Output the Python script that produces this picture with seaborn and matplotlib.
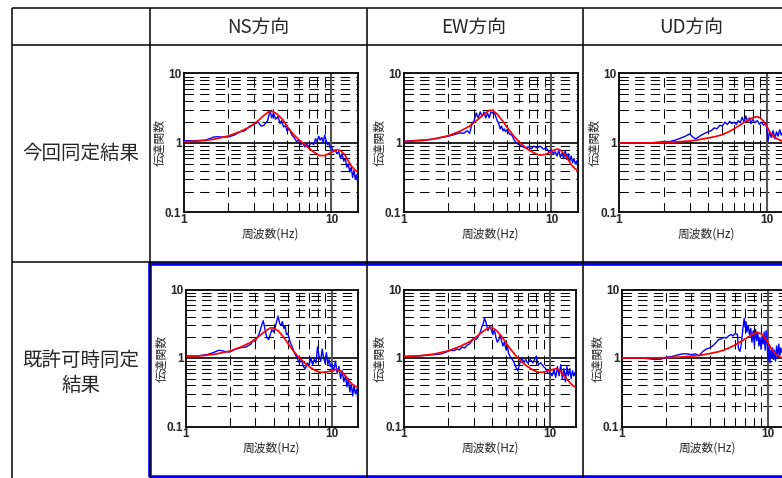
import numpy as np
import pandas as pd
import matplotlib
matplotlib.use("Agg")
import matplotlib.pyplot as plt
from matplotlib.lines import Line2D
from matplotlib.patches import Rectangle
from matplotlib.ticker import LogLocator, NullFormatter, FixedLocator, FixedFormatter
import seaborn as sns

sns.set_style("white")
plt.rcParams['font.family'] = ['Noto Sans CJK JP', 'DejaVu Sans']
plt.rcParams['lines.scale_dashes'] = True

# ---------------- data ----------------
col_titles = ["NS方向", "EW方向", "UD方向"]
row_titles = ["今回同定結果", "既許可時同定\n結果"]
xlabel = "周波数(Hz)"
ylabel = "伝達関数"
x_ticks = [1, 10]
x_tick_labels = ["1", "10"]
y_ticks = [0.1, 1, 10]
y_tick_labels = ["0.1", "1", "10"]

red_f_h = [1.0, 1.3, 1.6, 2.0, 2.4, 2.8, 3.2, 3.5, 3.8, 4.0, 4.3, 4.7, 5.1, 5.5, 6.0,
           6.5, 7.0, 7.6, 8.3, 9.0, 9.7, 10.4, 11.0, 11.6, 12.3, 13.0, 13.7, 14.4, 15.0]
red_f_v = [1.0, 1.5, 2.0, 2.5, 3.0, 3.5, 4.0, 4.5, 5.0, 5.5, 6.0, 6.5, 7.0, 7.5, 8.0,
           8.5, 9.0, 9.5, 10.0, 10.5, 11.0, 11.5, 12.0, 12.5, 13.0, 14.0, 15.0]

# row 1 (今回同定結果)
ns1_red = [1.04, 1.07, 1.13, 1.26, 1.45, 1.70, 2.10, 2.50, 2.85, 2.85, 2.60, 2.15, 1.65, 1.35, 1.12,
           0.98, 0.85, 0.74, 0.66, 0.66, 0.71, 0.77, 0.80, 0.77, 0.68, 0.55, 0.46, 0.41, 0.38]
ew1_red = [1.05, 1.08, 1.14, 1.27, 1.47, 1.75, 2.20, 2.60, 2.95, 2.95, 2.60, 2.05, 1.60, 1.30, 1.05,
           0.90, 0.80, 0.72, 0.67, 0.68, 0.73, 0.79, 0.82, 0.78, 0.68, 0.57, 0.48, 0.43, 0.40]
ud1_red = [1.0, 1.0, 1.02, 1.04, 1.07, 1.12, 1.18, 1.24, 1.32, 1.45, 1.60, 1.78, 1.98, 2.15, 2.30,
           2.40, 2.30, 2.05, 1.72, 1.42, 1.25, 1.18, 1.12, 1.08, 1.03, 0.95, 0.88]
# row 2 (既許可時同定結果)
ns2_red = [1.05, 1.08, 1.14, 1.26, 1.45, 1.70, 2.10, 2.45, 2.75, 2.75, 2.50, 2.00, 1.55, 1.25, 1.00,
           0.85, 0.75, 0.67, 0.62, 0.62, 0.64, 0.67, 0.68, 0.64, 0.56, 0.48, 0.42, 0.39, 0.37]
ew2_red = [1.05, 1.08, 1.14, 1.27, 1.47, 1.72, 2.12, 2.48, 2.78, 2.78, 2.52, 2.00, 1.55, 1.25, 1.00,
           0.85, 0.75, 0.67, 0.62, 0.62, 0.65, 0.68, 0.70, 0.66, 0.57, 0.49, 0.43, 0.39, 0.37]
ud2_red = [1.0, 1.0, 1.01, 1.03, 1.06, 1.10, 1.16, 1.22, 1.30, 1.42, 1.56, 1.72, 1.90, 2.08, 2.25,
           2.35, 2.25, 2.00, 1.70, 1.40, 1.22, 1.12, 1.05, 1.00, 0.96, 0.90, 0.85]

ns1_f = [1.0, 1.2, 1.4, 1.5, 1.6, 1.7, 1.8, 2.0, 2.2, 2.4, 2.6, 2.8, 3.0, 3.2, 3.35, 3.5, 3.7, 3.85,
         3.95, 4.05, 4.2, 4.35, 4.5, 4.6, 4.75, 4.9, 5.0, 5.2, 5.4, 5.6, 5.8, 6.0, 6.2, 6.4, 6.6, 6.8,
         7.0, 7.3, 7.6, 7.8, 8.0, 8.2, 8.4, 8.6, 8.8, 9.0, 9.2, 9.4, 9.6, 9.8, 10.0, 10.3, 10.6, 10.9,
         11.2, 11.5, 11.8, 12.1, 12.4, 12.7, 13.0, 13.3, 13.6, 13.9, 14.2, 14.5, 14.8, 15.0]
ns1_blue = [1.08, 1.08, 1.1, 1.15, 1.22, 1.23, 1.22, 1.22, 1.3, 1.45, 1.5, 1.75, 1.85, 2.0, 1.75, 1.8,
            2.1, 2.9, 2.3, 2.7, 2.2, 2.4, 1.9, 2.1, 1.7, 1.8, 1.5, 1.6, 1.3, 1.2, 1.05, 1.1, 0.95, 1.0,
            0.88, 0.95, 0.9, 1.0, 0.95, 1.15, 1.05, 1.25, 1.1, 1.2, 1.0, 1.3, 1.1, 0.95, 1.0, 0.85,
            0.9, 0.75, 0.8, 0.7, 0.75, 0.6, 0.7, 0.55, 0.6, 0.45, 0.5, 0.38, 0.45, 0.32, 0.4, 0.3,
            0.35, 0.28]

ew1_f = [1.0, 1.5, 2.0, 2.2, 2.4, 2.55, 2.7, 2.8, 2.9, 3.0, 3.1, 3.2, 3.3, 3.4, 3.5, 3.6, 3.7, 3.8,
         3.9, 4.0, 4.1, 4.2, 4.3, 4.4, 4.5, 4.6, 4.7, 4.8, 4.9, 5.0, 5.2, 5.4, 5.6, 5.8, 6.0, 6.3,
         6.6, 7.0, 7.3, 7.6, 8.0, 8.4, 8.8, 9.2, 9.6, 10.0, 10.3, 10.6, 10.9, 11.2, 11.5, 11.8, 12.1,
         12.4, 12.7, 13.0, 13.3, 13.6, 13.9, 14.2, 14.5, 14.8, 15.0]
ew1_blue = [1.06, 1.12, 1.25, 1.32, 1.4, 1.38, 1.5, 1.38, 1.9, 2.1, 2.7, 2.3, 2.8, 2.4, 2.8, 2.3, 2.7,
            2.3, 2.8, 2.7, 2.8, 2.4, 2.1, 1.9, 1.6, 1.75, 1.5, 1.6, 1.45, 1.55, 1.35, 1.3, 1.1, 1.0,
            0.95, 0.9, 0.85, 0.88, 0.82, 0.9, 0.85, 0.9, 0.82, 0.85, 0.75, 0.8, 0.7, 0.75, 0.65, 0.78,
            0.62, 0.72, 0.6, 0.78, 0.58, 0.7, 0.55, 0.65, 0.52, 0.6, 0.5, 0.55, 0.48]

ud1_f = [1.0, 1.3, 1.6, 1.8, 2.0, 2.2, 2.4, 2.6, 2.8, 3.0, 3.15, 3.3, 3.45, 3.6, 3.8, 4.0, 4.2, 4.4,
         4.6, 4.8, 5.0, 5.2, 5.4, 5.6, 5.8, 6.0, 6.2, 6.4, 6.6, 6.8, 7.0, 7.2, 7.4, 7.6, 7.8, 8.0,
         8.3, 8.6, 8.9, 9.2, 9.5, 9.8, 10.0, 10.15, 10.4, 10.7, 11.0, 11.3, 11.6, 11.9, 12.2, 12.5,
         12.8, 13.2, 14.0, 15.0]
ud1_blue = [1.0, 1.0, 1.0, 1.02, 1.05, 1.05, 1.1, 1.17, 1.25, 1.35, 1.22, 1.15, 1.22, 1.3, 1.38, 1.45,
            1.5, 1.65, 1.6, 1.8, 1.75, 2.0, 1.85, 2.05, 1.9, 2.0, 1.85, 2.1, 1.95, 2.35, 2.0, 2.45, 2.0,
            2.3, 1.9, 2.2, 1.95, 2.1, 1.85, 2.0, 1.8, 1.95, 1.6, 1.05, 1.45, 1.2, 1.5, 1.15, 1.45, 1.25,
            1.55, 1.3, 1.45, 1.35, 1.3, 1.25]

ns2_f = [1.0, 1.2, 1.4, 1.55, 1.7, 1.85, 2.0, 2.2, 2.4, 2.6, 2.8, 2.9, 3.0, 3.1, 3.2, 3.3, 3.4, 3.5,
         3.6, 3.7, 3.8, 3.9, 4.0, 4.1, 4.2, 4.3, 4.4, 4.5, 4.6, 4.7, 4.8, 4.9, 5.0, 5.2, 5.4, 5.6,
         5.8, 6.0, 6.2, 6.4, 6.6, 6.8, 7.0, 7.2, 7.4, 7.6, 7.8, 8.0, 8.2, 8.4, 8.6, 8.8, 9.0, 9.2,
         9.4, 9.6, 9.8, 10.0, 10.3, 10.6, 10.9, 11.2, 11.5, 11.8, 12.1, 12.4, 12.7, 13.0, 13.3,
         13.6, 13.9, 14.2, 14.5, 14.8, 15.0]
ns2_blue = [1.07, 1.07, 1.12, 1.2, 1.3, 1.25, 1.22, 1.35, 1.42, 1.45, 1.6, 1.8, 1.75, 2.0, 2.3, 2.9,
            3.5, 2.6, 2.0, 1.85, 2.2, 2.6, 2.4, 2.8, 3.4, 4.1, 3.2, 3.0, 3.4, 2.7, 2.9, 2.2, 2.3, 1.7,
            1.4, 1.15, 1.0, 0.85, 0.95, 0.75, 0.7, 0.85, 0.78, 1.0, 0.8, 0.95, 0.85, 1.45, 1.05, 0.9,
            1.35, 1.0, 0.85, 1.2, 0.8, 0.95, 0.75, 0.8, 0.65, 0.9, 0.6, 0.75, 0.5, 0.65, 0.45, 0.55,
            0.38, 0.5, 0.32, 0.42, 0.28, 0.4, 0.3, 0.35, 0.27]

ew2_f = [1.0, 1.3, 1.6, 1.8, 2.0, 2.1, 2.2, 2.3, 2.4, 2.5, 2.6, 2.7, 2.8, 2.9, 3.0, 3.1, 3.2, 3.3,
         3.4, 3.5, 3.55, 3.65, 3.75, 3.85, 3.95, 4.05, 4.15, 4.25, 4.35, 4.45, 4.55, 4.65, 4.75, 4.85,
         5.0, 5.1, 5.2, 5.4, 5.6, 5.8, 6.0, 6.2, 6.4, 6.6, 6.8, 7.0, 7.3, 7.6, 8.0, 8.3, 8.6, 9.0,
         9.3, 9.6, 10.0, 10.3, 10.6, 10.9, 11.2, 11.5, 11.8, 12.1, 12.4, 12.7, 13.0, 13.3, 13.6,
         13.9, 14.2, 14.5, 14.8, 15.0]
ew2_blue = [1.05, 1.08, 1.12, 1.15, 1.25, 1.3, 1.28, 1.35, 1.32, 1.45, 1.4, 1.55, 1.6, 1.75, 1.95, 1.85,
            2.0, 2.3, 2.8, 3.3, 3.8, 3.2, 2.5, 2.9, 2.6, 2.2, 2.6, 2.0, 1.7, 1.85, 2.2, 1.75, 1.5, 1.7,
            1.3, 1.45, 1.15, 1.0, 0.9, 0.75, 0.65, 0.85, 1.0, 0.85, 0.95, 0.85, 0.95, 0.85, 1.05, 0.8,
            0.85, 0.75, 0.7, 0.6, 0.6, 0.55, 0.68, 0.52, 0.75, 0.55, 0.8, 0.5, 0.7, 0.45, 0.75, 0.55,
            0.7, 0.5, 0.65, 0.55, 0.62, 0.5]

ud2_f = [1.0, 1.3, 1.5, 1.7, 1.85, 2.0, 2.2, 2.4, 2.6, 2.8, 3.0, 3.2, 3.4, 3.6, 3.8, 4.0, 4.2, 4.4,
         4.6, 4.8, 5.0, 5.2, 5.4, 5.6, 5.8, 6.0, 6.2, 6.3, 6.45, 6.6, 6.75, 6.9, 7.0, 7.1, 7.2, 7.35,
         7.5, 7.65, 7.8, 7.95, 8.1, 8.25, 8.4, 8.55, 8.7, 8.85, 9.0, 9.15, 9.3, 9.45, 9.6, 9.75,
         9.9, 10.05, 10.2, 10.35, 10.5, 10.65, 10.8, 10.95, 11.1, 11.3, 11.5, 11.7, 11.9, 12.1,
         12.3, 12.5, 13.0, 14.0, 15.0]
ud2_blue = [1.0, 1.0, 0.98, 0.95, 0.96, 1.02, 1.05, 1.1, 1.15, 1.15, 1.12, 1.15, 1.08, 1.25, 1.35, 1.4,
            1.5, 1.65, 1.85, 1.9, 2.0, 1.95, 2.1, 2.2, 2.1, 2.3, 2.2, 1.4, 1.25, 1.6, 2.6, 3.8, 2.8,
            3.4, 2.4, 3.0, 2.2, 2.7, 1.7, 2.5, 1.5, 2.6, 1.8, 2.4, 1.5, 2.0, 1.35, 2.1, 1.6, 2.4, 1.3,
            2.5, 1.6, 0.9, 1.5, 0.85, 1.3, 1.0, 1.4, 0.95, 1.3, 0.9, 1.5, 1.0, 1.6, 1.1, 1.4, 1.2,
            1.3, 1.2, 1.15]

panels = [
    # (row, col, blue_f, blue_v, red_f, red_v)
    (0, 0, ns1_f, ns1_blue, red_f_h, ns1_red),
    (0, 1, ew1_f, ew1_blue, red_f_h, ew1_red),
    (0, 2, ud1_f, ud1_blue, red_f_v, ud1_red),
    (1, 0, ns2_f, ns2_blue, red_f_h, ns2_red),
    (1, 1, ew2_f, ew2_blue, red_f_h, ew2_red),
    (1, 2, ud2_f, ud2_blue, red_f_v, ud2_red),
]

# ---------------- layout (pixels) ----------------
W, H = 782, 478
fig = plt.figure(figsize=(W / 100, H / 100), dpi=100)

def fx(x):
    return x / W

def fy(y):
    return 1 - y / H

def hline(y, x0, x1, **kw):
    fig.add_artist(Line2D([fx(x0), fx(x1)], [fy(y), fy(y)], transform=fig.transFigure, **kw))

def vline(x, y0, y1, **kw):
    fig.add_artist(Line2D([fx(x), fx(x)], [fy(y0), fy(y1)], transform=fig.transFigure, **kw))

tbl = dict(color='black', lw=1.1, solid_capstyle='butt')
for y in (8, 45, 262):
    hline(y, 12, 800, **tbl)
for x in (12, 150, 367, 583):
    vline(x, 8, 480, **tbl)

# highlight rectangle for second row
fig.add_artist(Rectangle((fx(150), fy(476.5)), fx(800) - fx(150), fy(264) - fy(476.5),
                         transform=fig.transFigure, fill=False, edgecolor='#0000ff', lw=2.6))

# header texts
col_centers = [258, 474, 691]
for c, t in zip(col_centers, col_titles):
    fig.text(fx(c), fy(27), t, ha='center', va='center', fontsize=13.5)
fig.text(fx(81), fy(153.5), row_titles[0], ha='center', va='center', fontsize=14)
fig.text(fx(81), fy(373), row_titles[1], ha='center', va='center', fontsize=14, linespacing=1.25)

row_geom = [(73.5, 212.5), (289.5, 426.5)]
col_left = [[183.5, 403.5, 619], [185.5, 404, 621.5]]
col_width = [174, 172]

for (r, c, bf, bv, rf, rv) in panels:
    top, bot = row_geom[r]
    left = col_left[r][c]
    wpx = col_width[r]
    ax = fig.add_axes([fx(left), fy(bot), wpx / W, (bot - top) / H])
    ax.set_xscale('log')
    ax.set_yscale('log')
    dfb = pd.DataFrame({'f': bf, 'v': bv})
    dfr = pd.DataFrame({'f': rf, 'v': rv})
    ax.xaxis.set_minor_locator(LogLocator(base=10, subs=np.arange(2, 10), numticks=20))
    ax.yaxis.set_minor_locator(LogLocator(base=10, subs=np.arange(2, 10), numticks=20))
    ax.grid(which='minor', axis='both', color='black', linestyle=(0, (9, 6)), linewidth=0.75)
    ax.grid(which='major', visible=False)
    ax.axhline(1, color='black', lw=1.2, zorder=1.5)
    ax.axvline(10, color='#555555', lw=1.5, zorder=1.5)
    sns.lineplot(data=dfb, x='f', y='v', ax=ax, color='#0000ff', lw=1.0, estimator=None, sort=False,
                 zorder=3)
    sns.lineplot(data=dfr, x='f', y='v', ax=ax, color='#ff0000', lw=1.25, estimator=None, sort=False,
                 zorder=4)
    ax.set_xlim(1, 15)
    ax.set_ylim(0.1, 10)
    ax.xaxis.set_major_locator(FixedLocator(x_ticks))
    ax.xaxis.set_major_formatter(FixedFormatter(x_tick_labels))
    ax.yaxis.set_major_locator(FixedLocator(y_ticks))
    ax.yaxis.set_major_formatter(FixedFormatter(y_tick_labels))
    ax.xaxis.set_minor_formatter(NullFormatter())
    ax.yaxis.set_minor_formatter(NullFormatter())
    ax.tick_params(which='both', length=0)
    ax.tick_params(axis='x', pad=1.0)
    ax.tick_params(axis='y', pad=1.5)
    for lab in ax.get_xticklabels() + ax.get_yticklabels():
        lab.set_family('Liberation Sans')
        lab.set_fontweight('bold')
        lab.set_fontsize(8.5)
    for s in ax.spines.values():
        s.set_color('black')
        s.set_linewidth(1.3)
        s.set_visible(True)
    ax.set_xlabel(xlabel, fontsize=8.5)
    ax.set_ylabel(ylabel, fontsize=8.5)
    ax.xaxis.set_label_coords(0.5, -15 / (bot - top))
    ax.yaxis.set_label_coords(-17 / wpx, 0.5)
    ax.set_facecolor('white')
    ax.patch.set_alpha(0)

fig.savefig('out.png', dpi=100, facecolor='white')
